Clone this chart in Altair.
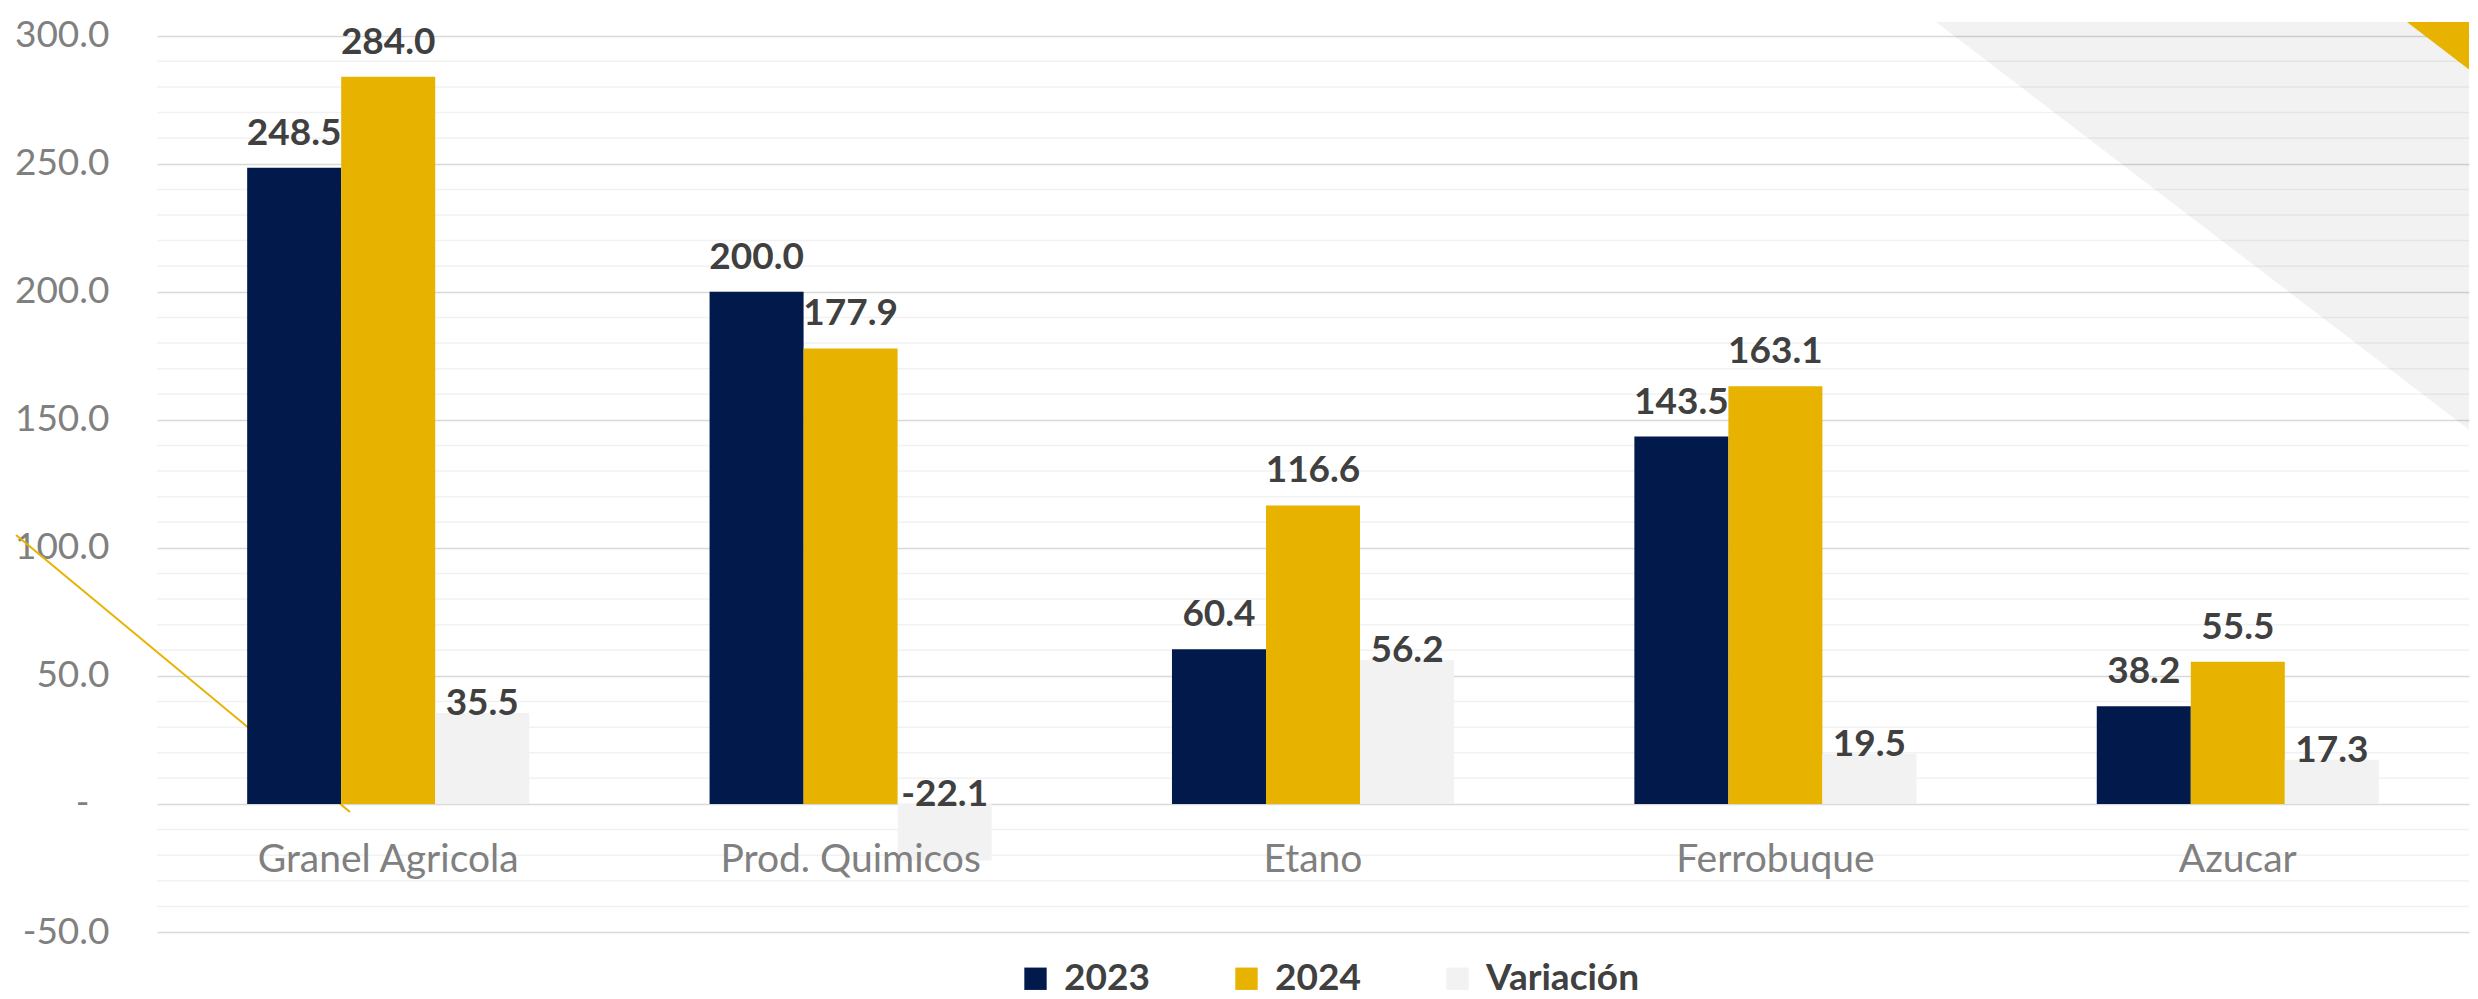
import altair as alt
import pandas as pd

# ---- data ----
categories = ["Granel Agricola", "Prod. Quimicos", "Etano", "Ferrobuque", "Azucar"]
series = ["2023", "2024", "Variación"]
v2023 = [248.5, 200.0, 60.4, 143.5, 38.2]
v2024 = [284.0, 177.9, 116.6, 163.1, 55.5]
variacion = [35.5, -22.1, 56.2, 19.5, 17.3]
colors = ["#011A4B", "#E8B200", "#F2F2F2"]
major_ticks = [-50, 0, 50, 100, 150, 200, 250, 300]
minor_ticks = [v for v in range(-50, 301, 10) if v % 50 != 0]

rows = []
for s, vals in zip(series, [v2023, v2024, variacion]):
    for c, v in zip(categories, vals):
        rows.append({"cat": c, "serie": s, "value": v})
df = pd.DataFrame(rows)

W, H = 2312, 910
PX_PER_UNIT = 2.5607
Y_MIN = -50
Y_MAX = Y_MIN + H / PX_PER_UNIT
zero_from_bottom = (0 - Y_MIN) * PX_PER_UNIT

FONT = "Lato"

base = alt.Chart(df)

x_axis = alt.Axis(
    title=None, labelAngle=0, ticks=False, domain=False, grid=False,
    labelFont=FONT, labelFontSize=39, labelColor="#808080",
    labelBaseline="alphabetic", labelPadding=68, labelLimit=0,
    offset=-zero_from_bottom, zindex=1,
)
x_scale = alt.Scale(paddingInner=0.39, paddingOuter=0.195)
x_enc = alt.X("cat:N", sort=categories, scale=x_scale, axis=x_axis)
xoff = alt.XOffset("serie:N", sort=series, scale=alt.Scale(paddingInner=0, paddingOuter=0))

y_axis = alt.Axis(
    title=None, values=major_ticks, ticks=False, domain=False, labelOverlap=False,
    labelExpr="datum.value === 0 ? '-' : (datum.value < 0 ? '-' : '') + format(abs(datum.value), '.1f')",
    labelFont=FONT, labelFontSize=37, labelColor="#808080",
    labelPadding={"condition": {"test": "datum.value === 0", "value": 68}, "value": 48},
    gridColor="#D9D9D9", gridWidth=1.5,
)
y_scale = alt.Scale(domain=[Y_MIN, Y_MAX], nice=False, zero=False)

minor_grid = alt.Chart(pd.DataFrame({"v": minor_ticks})).mark_rule(
    color="#F2F2F2", strokeWidth=1.5
).encode(y=alt.Y("v:Q", scale=y_scale, axis=y_axis))

bars = base.mark_bar().encode(
    x=x_enc,
    xOffset=xoff,
    y=alt.Y("value:Q", scale=y_scale, axis=y_axis),
    color=alt.Color(
        "serie:N",
        scale=alt.Scale(domain=series, range=colors),
        legend=alt.Legend(
            orient="none", legendX=860, legendY=938, direction="horizontal",
            title=None, symbolType="square", symbolSize=500, symbolStrokeWidth=0,
            labelFont=FONT, labelFontSize=37, labelFontWeight="bold",
            labelColor="#404040", columnPadding=78, labelOffset=10, padding=0,
        ),
    ),
)

label_calc = "(datum.value < 0 ? '-' : '') + format(abs(datum.value), '.1f')"

txt_years = base.transform_filter(
    "datum.serie !== 'Variación'"
).transform_calculate(
    lab=label_calc, ypos="max(datum.value, 0)"
).mark_text(
    font=FONT, fontSize=37, fontWeight="bold", color="#404040",
    baseline="alphabetic", dy=-23,
).encode(
    x=x_enc, xOffset=xoff,
    y=alt.Y("ypos:Q", scale=y_scale, axis=y_axis), text="lab:N",
)

txt_var = base.transform_filter(
    "datum.serie === 'Variación'"
).transform_calculate(
    lab=label_calc, ypos="max(datum.value, 0)"
).mark_text(
    font=FONT, fontSize=37, fontWeight="bold", color="#404040",
    baseline="alphabetic", dy=2,
).encode(
    x=x_enc, xOffset=xoff,
    y=alt.Y("ypos:Q", scale=y_scale, axis=y_axis), text="lab:N",
)

# ---- slide decorations (background shapes, not data); plot origin ~ page (158, 16) ----
one = alt.Chart(alt.Data(values=[{"d": 0}]))
tri = one.mark_rule(color="#000000", strokeWidth=1000, strokeOpacity=0.05, clip=True).encode(
    x=alt.value(1426.5), y=alt.value(-899.3), x2=alt.value(2697.3), y2=alt.value(73.1)
)
stripe = one.mark_rule(color="#E8B200", strokeWidth=49, clip=True).encode(
    x=alt.value(2005.6), y=alt.value(-217.8), x2=alt.value(2482.2), y2=alt.value(146.8)
)
gold_line = one.mark_rule(color="#E8B200", strokeWidth=2).encode(
    x=alt.value(-141), y=alt.value(513), x2=alt.value(193), y2=alt.value(790)
)

chart = alt.layer(minor_grid, tri, stripe, gold_line, bars, txt_years, txt_var).properties(
    width=W, height=H, background="white",
    padding={"left": 6, "top": 8, "right": 0, "bottom": 0},
).configure_view(stroke=None)

chart.save("out.html", embed_options={"renderer": "svg", "actions": False})
